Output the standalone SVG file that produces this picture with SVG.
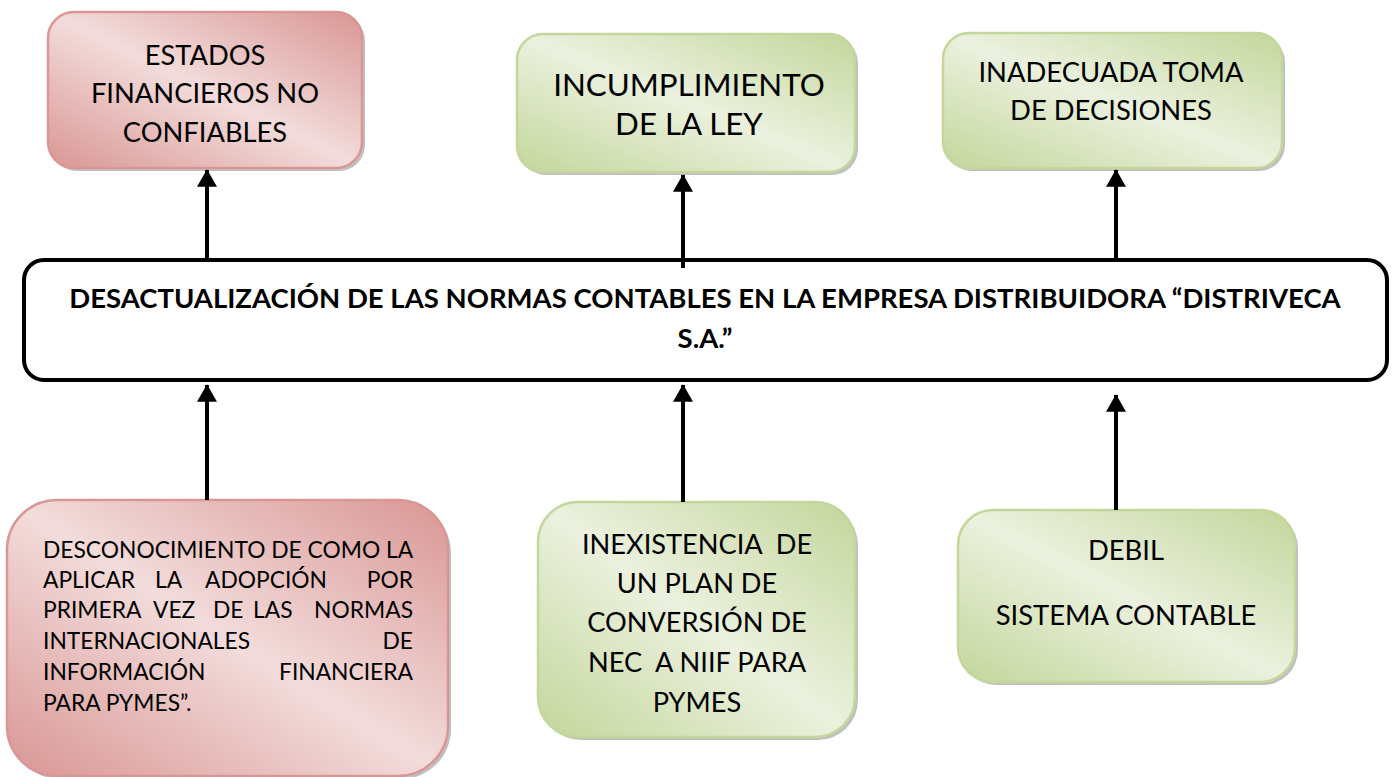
<svg xmlns="http://www.w3.org/2000/svg" width="1394" height="777" viewBox="0 0 1394 777">
<defs>
  <linearGradient id="gRed" x1="1" y1="0" x2="0" y2="1">
    <stop offset="0" stop-color="#d99694"/>
    <stop offset="0.5" stop-color="#f2dcdb"/>
    <stop offset="1" stop-color="#d99694"/>
  </linearGradient>
  <linearGradient id="gGreen" x1="1" y1="0" x2="0" y2="1">
    <stop offset="0" stop-color="#c3d69b"/>
    <stop offset="0.5" stop-color="#ebf1de"/>
    <stop offset="1" stop-color="#c3d69b"/>
  </linearGradient>
  <marker id="arr" markerWidth="5" markerHeight="5" refX="4.2" refY="2.5" orient="auto" markerUnits="strokeWidth">
    <path d="M0,0 L4.4,2.5 L0,5 Z" fill="#000"/>
  </marker>
</defs>
<style>
  .shadow { fill: #8c8c8c; opacity: 0.55; }
  .red { fill: url(#gRed); stroke: #d99694; stroke-width: 2.5; }
  .green { fill: url(#gGreen); stroke: #c3d69b; stroke-width: 2.5; }
  .t { font-family: Lato, "Liberation Sans", sans-serif; fill: #000; }
  .c { text-anchor: middle; }
  .conn line { stroke: #000; stroke-width: 4; marker-end: url(#arr); }
</style>
<rect width="1394" height="777" fill="#fff"/>

<g id="n-estados">
  <rect class="shadow" x="51" y="15" width="314" height="156" rx="26"/>
  <rect class="red" x="48" y="12" width="314" height="156" rx="26"/>
  <text class="t c" font-size="27.3" x="205" y="65">ESTADOS</text>
  <text class="t c" font-size="27.3" x="205" y="103">FINANCIEROS NO</text>
  <text class="t c" font-size="27.3" x="205" y="142">CONFIABLES</text>
</g>

<g id="n-incumplimiento">
  <rect class="shadow" x="520" y="37" width="338" height="138" rx="26"/>
  <rect class="green" x="517" y="34" width="338" height="138" rx="26"/>
  <text class="t c" font-size="31.3" x="689" y="96">INCUMPLIMIENTO</text>
  <text class="t c" font-size="31.3" x="689" y="135">DE LA LEY</text>
</g>

<g id="n-inadecuada">
  <rect class="shadow" x="946" y="36" width="339" height="135" rx="26"/>
  <rect class="green" x="943" y="33" width="339" height="135" rx="26"/>
  <text class="t c" font-size="27.4" x="1111" y="82">INADECUADA TOMA</text>
  <text class="t c" font-size="27.4" x="1111" y="120">DE DECISIONES</text>
</g>

<g id="n-main">
  <rect x="24" y="260" width="1363" height="120" rx="20" fill="#fff" stroke="#000" stroke-width="4"/>
  <text class="t c" font-size="27.5" font-weight="bold" x="705" y="308">DESACTUALIZACIÓN DE LAS NORMAS CONTABLES EN LA EMPRESA DISTRIBUIDORA “DISTRIVECA</text>
  <text class="t c" font-size="27.5" font-weight="bold" x="705" y="348">S.A.”</text>
</g>

<g id="n-desconocimiento">
  <rect class="shadow" x="10" y="503" width="441" height="276" rx="50"/>
  <rect class="red" x="7" y="500" width="441" height="276" rx="50"/>
  <g class="t" font-size="22.8">
    <text x="43" y="558">DESCONOCIMIENTO DE COMO LA</text>
    <text y="588"><tspan x="43">APLICAR</tspan><tspan x="155">LA</tspan><tspan x="205">ADOPCIÓN</tspan></text>
    <text x="413" y="588" text-anchor="end">POR</text>
    <text y="618"><tspan x="43">PRIMERA</tspan><tspan x="153">VEZ</tspan><tspan x="213">DE</tspan><tspan x="253">LAS</tspan></text>
    <text x="413" y="618" text-anchor="end">NORMAS</text>
    <text x="43" y="649">INTERNACIONALES</text>
    <text x="413" y="649" text-anchor="end">DE</text>
    <text x="43" y="680">INFORMACIÓN</text>
    <text x="413" y="680" text-anchor="end">FINANCIERA</text>
    <text x="43" y="711">PARA PYMES”.</text>
  </g>
</g>

<g id="n-inexistencia">
  <rect class="shadow" x="541" y="505" width="317" height="235" rx="40"/>
  <rect class="green" x="538" y="502" width="317" height="235" rx="40"/>
  <text class="t c" font-size="27.2" x="697" y="554" xml:space="preserve">INEXISTENCIA  DE</text>
  <text class="t c" font-size="27.2" x="697" y="593">UN PLAN DE</text>
  <text class="t c" font-size="27.2" x="697" y="632">CONVERSIÓN DE</text>
  <text class="t c" font-size="27.2" x="697" y="672" xml:space="preserve">NEC  A NIIF PARA</text>
  <text class="t c" font-size="27.2" x="697" y="712">PYMES</text>
</g>

<g id="n-debil">
  <rect class="shadow" x="961" y="513" width="337" height="172" rx="35"/>
  <rect class="green" x="958" y="510" width="337" height="172" rx="35"/>
  <text class="t c" font-size="27.4" x="1126" y="560">DEBIL</text>
  <text class="t c" font-size="27.4" x="1126" y="625">SISTEMA CONTABLE</text>
</g>

<g id="connectors" class="conn">
  <line x1="207" y1="260" x2="207" y2="170"/>
  <line x1="683" y1="268" x2="683" y2="175"/>
  <line x1="1116" y1="260" x2="1116" y2="170"/>
  <line x1="207" y1="500" x2="207" y2="385"/>
  <line x1="683" y1="502" x2="683" y2="385"/>
  <line x1="1116" y1="510" x2="1116" y2="395"/>
</g>
</svg>
